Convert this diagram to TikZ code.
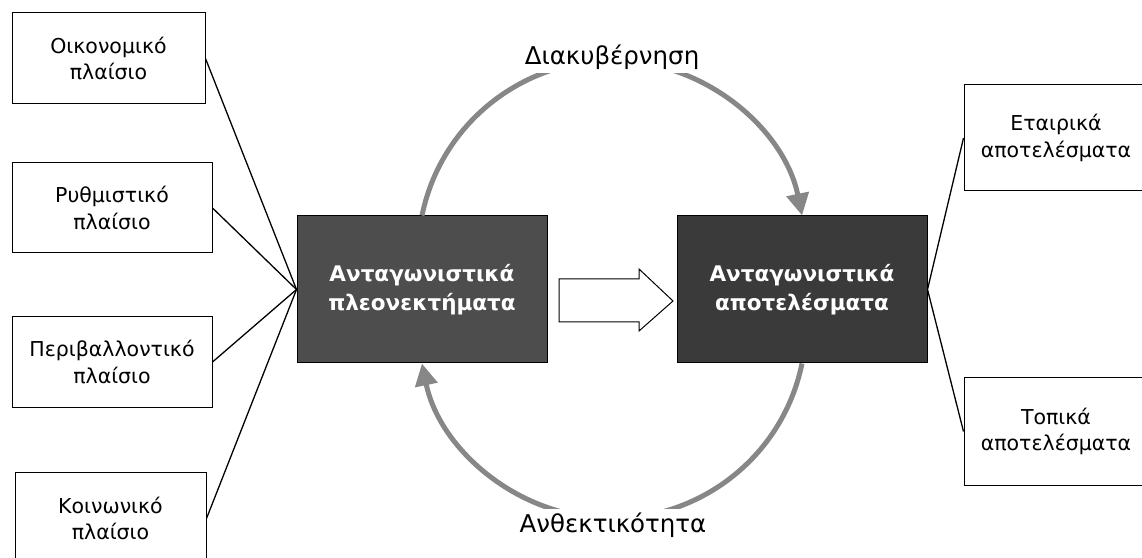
\documentclass[tikz,border=0pt]{standalone}
\usepackage{fontspec}
\setmainfont{DejaVu Sans}
\usetikzlibrary{arrows.meta}
\definecolor{leftgray}{HTML}{4D4D4D}
\definecolor{rightgray}{HTML}{3A3A3A}
\definecolor{arcgray}{HTML}{878787}
\tikzset{
  frame/.style={draw=black, line width=1pt, fill=white, align=center, inner sep=0pt,
    font=\fontsize{20.5}{26.5}\selectfont},
  core/.style={draw=black, line width=1pt, text=white, align=center, inner sep=0pt,
    minimum width=250, minimum height=147, font=\bfseries\fontsize{21.5}{29}\selectfont},
  link/.style={line width=1.3pt},
  loopline/.style={draw=arcgray, line width=5pt, -{Triangle[length=22pt,width=22pt]}},
  caption/.style={font=\fontsize{24.5}{30}\selectfont, fill=white, inner sep=3pt},
  hollow/.style={draw=black, line width=1pt, fill=white, line join=miter}
}
\begin{document}
\begin{tikzpicture}[x=1pt,y=1pt]
\useasboundingbox (0,0) rectangle (1142,557);
\clip (0,0) rectangle (1142,557);
% left frame boxes
\node[frame, minimum width=193, minimum height=91] (b1) at (108.5,498.5) {Οικονομικό\\πλαίσιο};
\node[frame, minimum width=200, minimum height=90] (b2) at (112,349) {Ρυθμιστικό\\πλαίσιο};
\node[frame, minimum width=200, minimum height=90] (b3) at (112,195) {Περιβαλλοντικό\\πλαίσιο};
\node[frame, minimum width=191, minimum height=93] (b4) at (110.5,38.5) {Κοινωνικό\\πλαίσιο};
% core boxes
\node[core, fill=leftgray] (A) at (422,267.5) {Ανταγωνιστικά\\πλεονεκτήματα};
\node[core, fill=rightgray] (R) at (802,267.5) {Ανταγωνιστικά\\αποτελέσματα};
% right frame boxes
\node[frame, minimum width=184, minimum height=106] (E) at (1056,419) {Εταιρικά\\αποτελέσματα};
\node[frame, minimum width=184, minimum height=107] (T) at (1056,125.5) {Τοπικά\\αποτελέσματα};
% connectors
\draw[link] (b1.east) -- (A.west);
\draw[link] (b2.east) -- (A.west);
\draw[link] (b3.east) -- (A.west);
\draw[link] (b4.east) -- (A.west);
\draw[link] (R.east) -- (E.west);
\draw[link] (R.east) -- (T.west);
% hollow block arrow
\draw[hollow] (559,278) -- (639,278) -- (639,288) -- (673,256) -- (639,226) -- (639,235) -- (559,235) -- cycle;
% loops
\draw[loopline] (A.north) arc[start angle=168.4, end angle=11.6, radius=194];
\node[caption, anchor=base] (gov) at (612,492) {Διακυβέρνηση};
\draw[loopline] (R.south) arc[start angle=-11.6, end angle=-168.4, radius=194];
\node[caption, anchor=base] (res) at (613,25) {Ανθεκτικότητα};
\end{tikzpicture}
\end{document}
